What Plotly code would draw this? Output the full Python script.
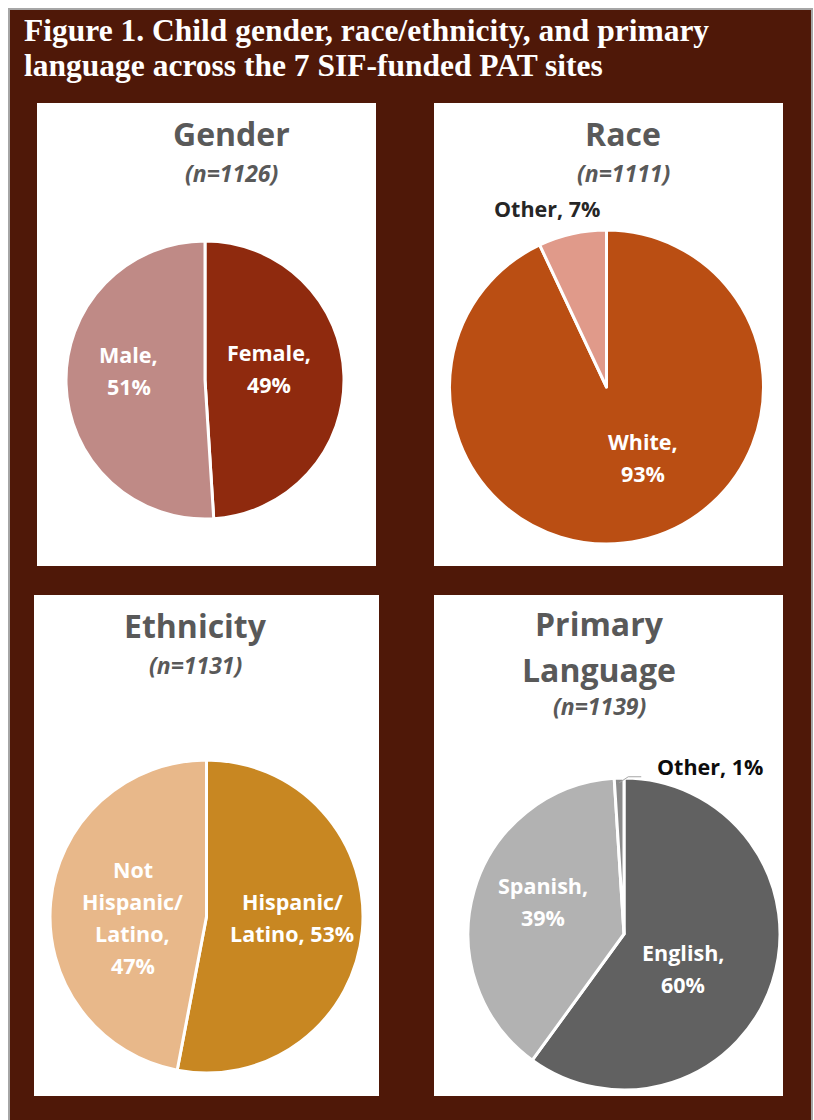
import math
import plotly.graph_objects as go

W, H = 814, 1120

# ---- data -------------------------------------------------------------
gender_labels = ["Female", "Male"]
gender_values = [49, 51]
gender_n = 1126

race_labels = ["White", "Other"]
race_values = [93, 7]
race_n = 1111

eth_labels = ["Hispanic/<br>Latino", "Not<br>Hispanic/<br>Latino"]
eth_values = [53, 47]
eth_n = 1131

lang_labels = ["English", "Spanish", "Other"]
lang_values = [60, 39, 1]
lang_n = 1139

# ---- styling ----------------------------------------------------------
BROWN = "#4F1808"
GRAY_TITLE = "#595959"
FONT = "Open Sans"
LABEL_SIZE = 21.5
LINE_STEP = 32  # px between lines of a slice label

gender_colors = ["#8F2A0E", "#BF8A86"]
race_colors = ["#BA4E13", "#E09A8A"]
eth_colors = ["#C88722", "#E8B88A"]
lang_colors = ["#616161", "#B2B2B2", "#8A8A8A"]


def px(x):
    return x / W


def py(y):
    return 1 - y / H


fig = go.Figure()
shapes = []
annotations = []

# outer frame
shapes.append(dict(type="rect", xref="paper", yref="paper",
                   x0=px(9), x1=px(812), y0=py(1122), y1=py(9),
                   fillcolor=BROWN, line=dict(color="#A6A6A6", width=2),
                   layer="below"))

# white panels
panels = [(37, 103, 376, 566), (434, 103, 783, 566),
          (34, 595, 379, 1096), (434, 595, 783, 1096)]
for (x0, y0, x1, y1) in panels:
    shapes.append(dict(type="rect", xref="paper", yref="paper",
                       x0=px(x0), x1=px(x1), y0=py(y1), y1=py(y0),
                       fillcolor="white", line=dict(width=0), layer="below"))

# figure title, one annotation per line
title_lines = ["Figure 1. Child gender, race/ethnicity, and primary",
               "language across the 7 SIF-funded PAT sites"]
for line, ty in zip(title_lines, [30, 65]):
    annotations.append(dict(
        text=line, xref="paper", yref="paper", x=px(22), y=py(ty),
        xanchor="left", yanchor="middle", align="left", showarrow=False,
        font=dict(family="Liberation Serif", size=31.5, color="white",
                  weight="bold")))


def add_label(text, x, y, color, xanchor="center"):
    """Multi-line label centred on (x, y) with fixed line spacing."""
    lines = text.split("<br>")
    top = y - LINE_STEP * (len(lines) - 1) / 2
    for i, line in enumerate(lines):
        annotations.append(dict(text=line, xref="paper", yref="paper",
                                x=px(x), y=py(top + i * LINE_STEP),
                                xanchor=xanchor, yanchor="middle",
                                showarrow=False,
                                font=dict(family=FONT, size=LABEL_SIZE,
                                          color=color, weight="bold")))


# pie charts: (labels, values, colors, center, radius, separators,
#              radial fraction, label nudge in px, label colour)
pies = [
    (gender_labels, gender_values, gender_colors, (205, 380), 139,
     [",<br>", ",<br>"], [0.48, 0.55], [(-3, -9), (0, -12)],
     ["white", "white"]),
    (race_labels, race_values, race_colors, (606.5, 387), 157,
     [",<br>", ", "], [0.5, 1.2], [(19, -6), (-18, 5)],
     ["white", "#262626"]),
    (eth_labels, eth_values, eth_colors, (206.5, 916.5), 156.5,
     [", ", ",<br>"], [0.55, 0.48], [(0, -7), (1, 8)],
     ["white", "white"]),
    (lang_labels, lang_values, lang_colors, (624, 934), 156,
     [",<br>", ",<br>", ", "], [0.44, 0.57, None], [(-6, 13), (4, -8), (0, 0)],
     ["white", "white", "#0D0D0D"]),
]

for labels, values, colors, (cx, cy), r, seps, fracs, nudges, tcols in pies:
    fig.add_trace(go.Pie(
        labels=[l.replace("<br>", " ") for l in labels], values=values,
        sort=False, direction="clockwise", rotation=0,
        marker=dict(colors=colors, line=dict(color="white", width=3)),
        textinfo="none", hoverinfo="skip", showlegend=False,
        domain=dict(x=[px(cx - r), px(cx + r)], y=[py(cy + r), py(cy - r)]),
    ))
    total = sum(values)
    cum = 0
    for lab, v, sep, f, (ndx, ndy), tc in zip(labels, values, seps, fracs,
                                              nudges, tcols):
        mid = 2 * math.pi * (cum + v / 2) / total
        cum += v
        txt = f"{lab}{sep}{v}%"
        if f is None:
            # tiny slice: label outside with a short leader line
            sx = cx + 0.97 * r * math.sin(mid)
            sy = cy - 0.97 * r * math.cos(mid)
            ex, ey = sx + 9, sy - 6
            fx = ex + 13
            shapes.append(dict(type="path", xref="paper", yref="paper",
                               path=f"M {px(sx)} {py(sy)} L {px(ex)} {py(ey)} L {px(fx)} {py(ey)}",
                               line=dict(color="#A6A6A6", width=1)))
            add_label(txt, fx + 14, ey - 10, tc, xanchor="left")
            continue
        lx = cx + f * r * math.sin(mid) + ndx
        ly = cy - f * r * math.cos(mid) + ndy
        add_label(txt, lx, ly, tc)

# panel headings: (heading lines, n, centre x, line centres y, n centre y)
headings = [
    (["Gender"], gender_n, 231, [133], 173),
    (["Race"], race_n, 623, [133], 173),
    (["Ethnicity"], eth_n, 195, [625], 665),
    (["Primary", "Language"], lang_n, 599, [623, 669], 706),
]
for lines, n, x, ys, yn in headings:
    for line, y in zip(lines, ys):
        annotations.append(dict(text=line, xref="paper", yref="paper",
                                x=px(x), y=py(y), xanchor="center",
                                yanchor="middle", showarrow=False,
                                font=dict(family=FONT, size=32,
                                          color=GRAY_TITLE, weight="bold")))
    annotations.append(dict(text=f"<i>(n={n})</i>", xref="paper", yref="paper",
                            x=px(x), y=py(yn), xanchor="center",
                            yanchor="middle", showarrow=False,
                            font=dict(family=FONT, size=23, color=GRAY_TITLE,
                                      weight="bold")))

fig.update_layout(width=W, height=H, margin=dict(l=0, r=0, t=0, b=0),
                  paper_bgcolor="white", plot_bgcolor="white",
                  shapes=shapes, annotations=annotations)

fig.write_html("out.html")
